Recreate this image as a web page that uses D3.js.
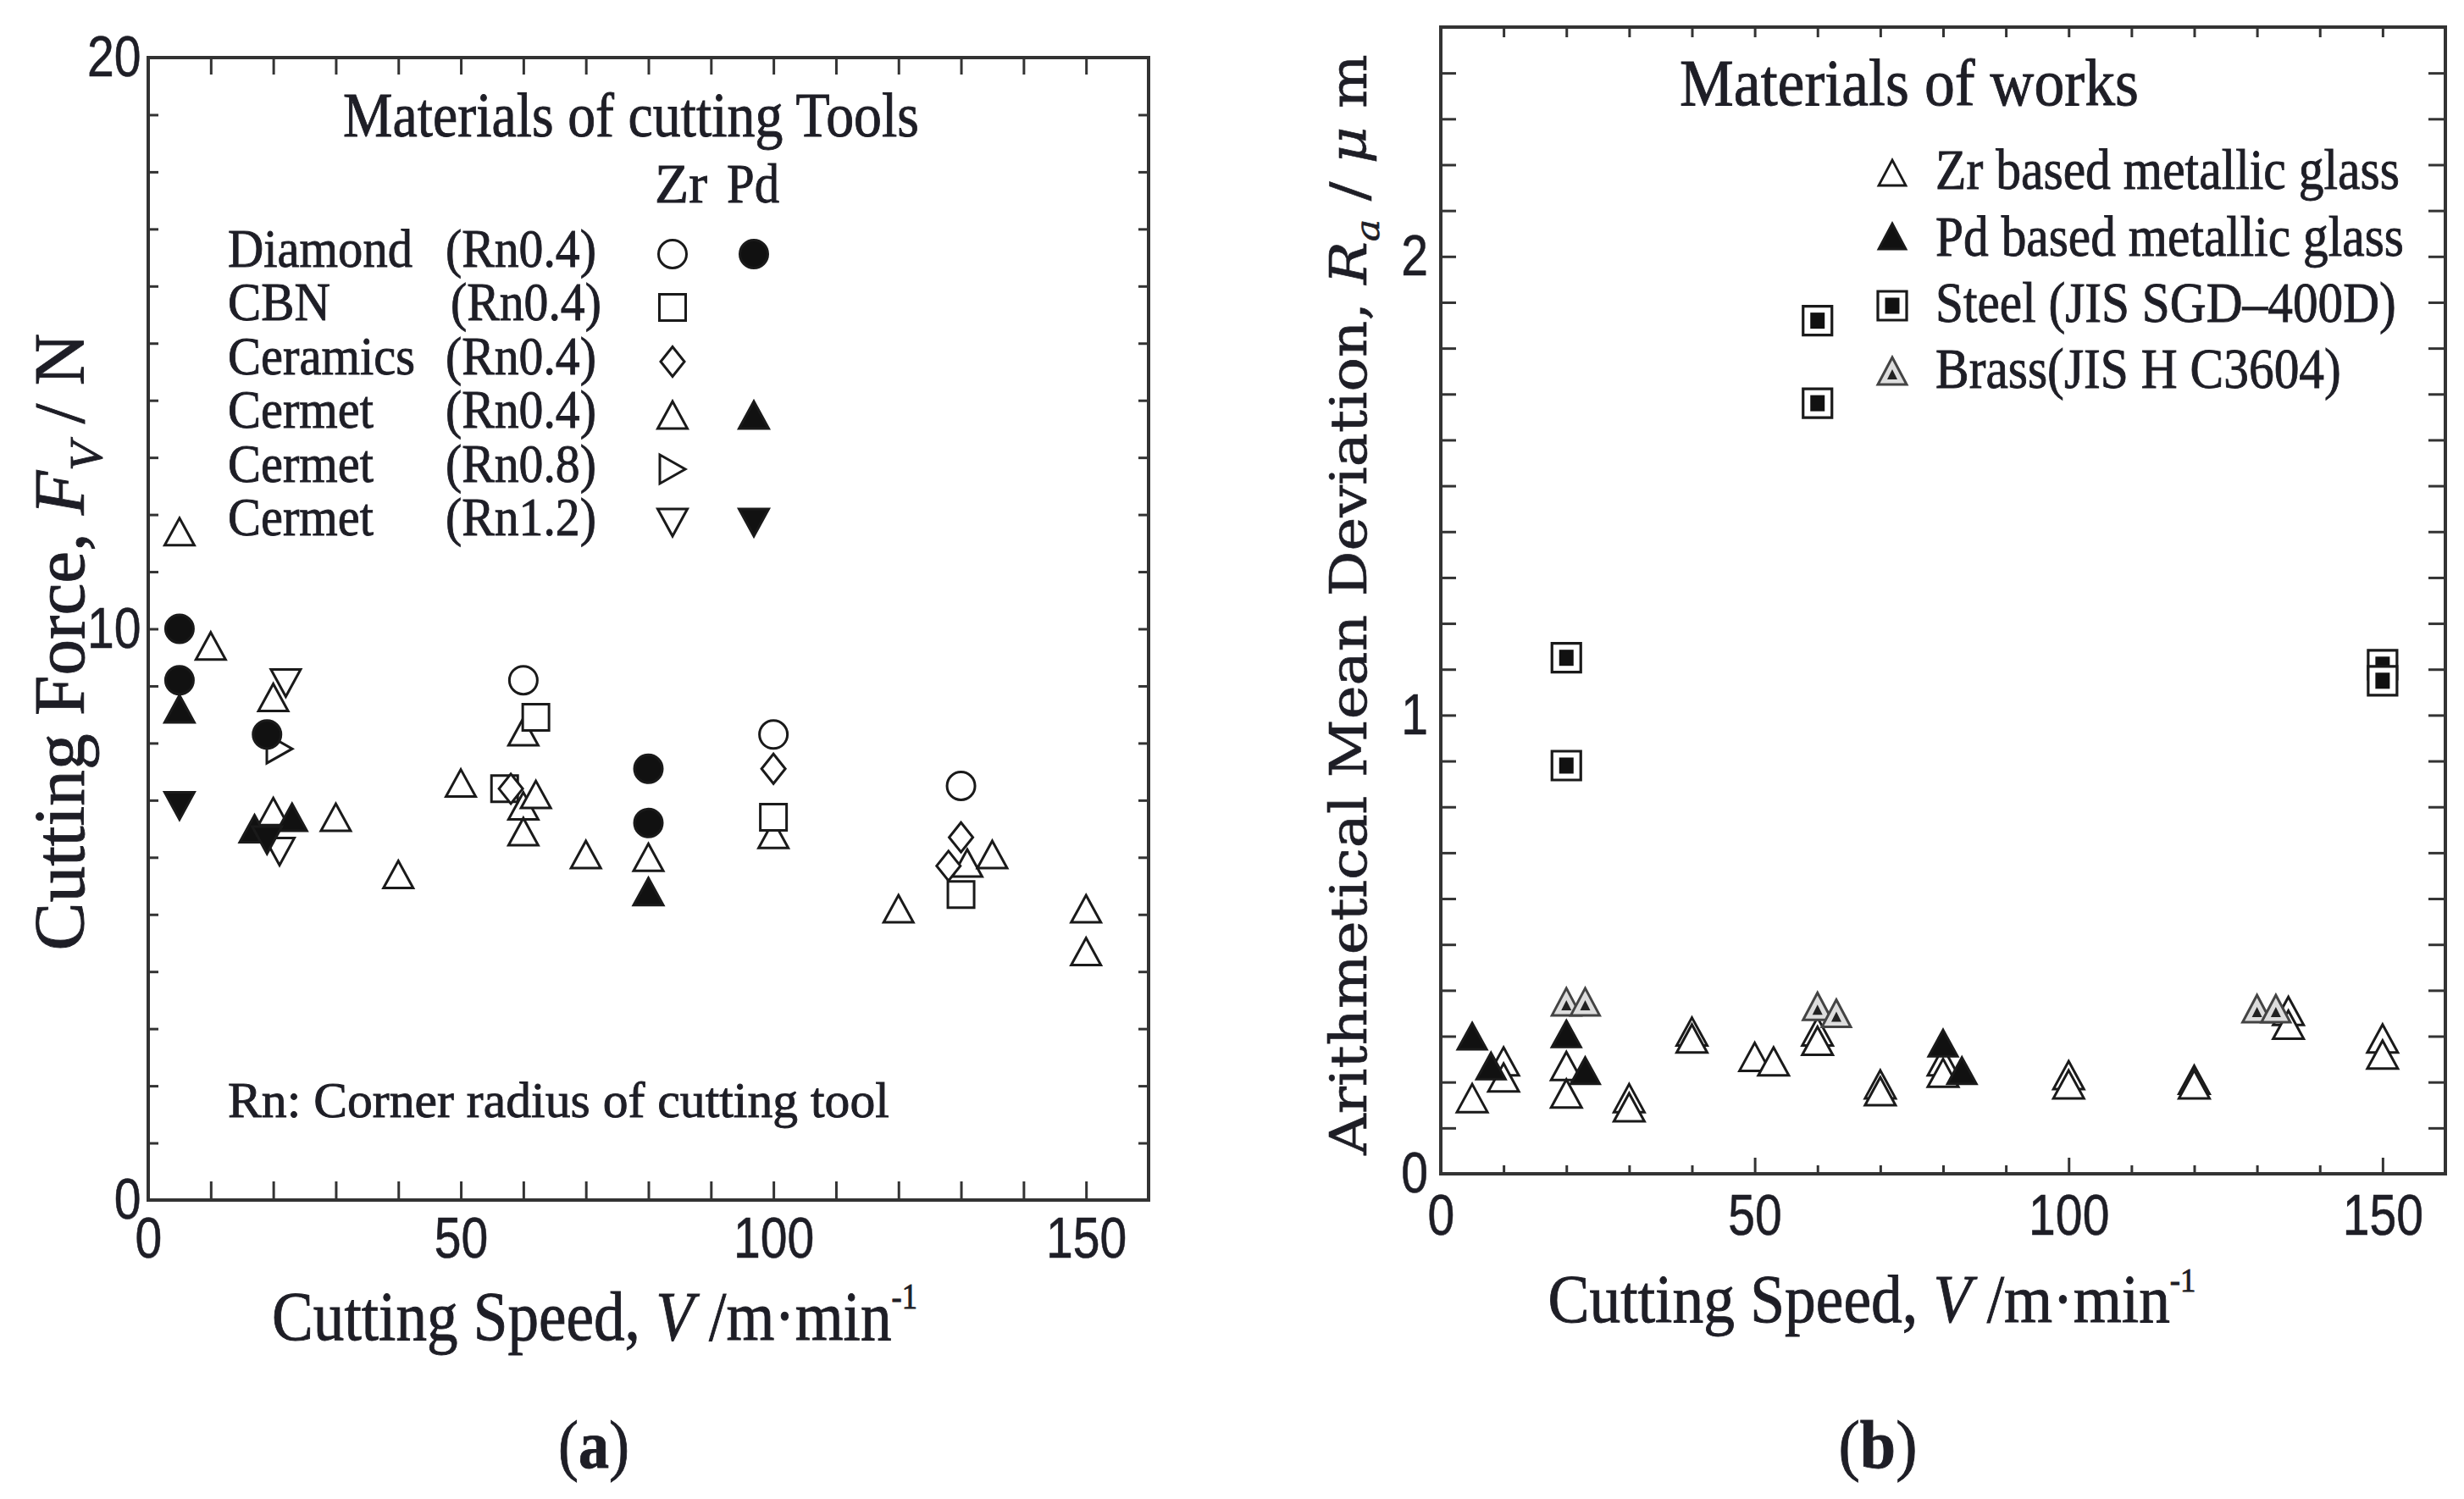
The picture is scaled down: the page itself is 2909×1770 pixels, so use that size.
<!DOCTYPE html>
<html><head><meta charset="utf-8">
<script src="https://cdn.jsdelivr.net/npm/d3@7"></script>
<style>body{margin:0;background:#fff} svg{display:block} text{white-space:pre}</style>
</head><body>
<script>
// ---------------- DATA ----------------
const speedTicks = d3.range(0, 161, 10);
const speedTickLabels = [0, 50, 100, 150];
const forceTicks = d3.range(0, 21, 1);
const forceTickLabels = [0, 10, 20];
const raTicks = d3.range(0, 26).map(i => i / 10);
const raTickLabels = [0, 1, 2];

// Panel (a): [cutting speed V, cutting force Fv]
const diamondZr  = [[60, 9.1], [100, 8.15], [130, 7.25]];
const diamondPd  = [[5, 10.0], [5, 9.1], [19, 8.15], [80, 7.55], [80, 6.6]];
const cbnZr      = [[57, 7.2], [62, 8.45], [100, 6.7], [130, 5.35]];
const ceramicsZr = [[58, 7.2], [100, 7.55], [130, 6.35], [128, 5.85]];
const cermet04Zr = [[5, 11.7], [10, 9.7], [20, 8.8], [20, 6.8], [30, 6.7], [40, 5.7], [50, 7.3],
                    [60, 8.2], [60, 6.9], [60, 6.45], [62, 7.1], [70, 6.05], [80, 6.0], [100, 6.4],
                    [120, 5.1], [131, 5.9], [135, 6.05], [150, 5.1], [150, 4.35]];
const cermet04Pd = [[5, 8.6], [17, 6.5], [23, 6.7], [80, 5.4]];
const cermet08Zr = [[21, 7.9]];
const cermet12Zr = [[22, 9.05], [21, 6.1]];
const cermet12Pd = [[5, 6.9], [19, 6.3]];

// Panel (b): [cutting speed V, Ra]
const zrGlass = [[5, 0.165], [10, 0.245], [10, 0.21], [20, 0.235], [20, 0.175], [30, 0.165], [30, 0.145],
                 [40, 0.31], [40, 0.295], [50, 0.255], [53, 0.245], [60, 0.31], [60, 0.29], [70, 0.195],
                 [70, 0.18], [80, 0.245], [80, 0.22], [100, 0.215], [100, 0.195], [120, 0.205],
                 [120, 0.195], [135, 0.355], [135, 0.325], [150, 0.295], [150, 0.26]];
const pdGlass = [[5, 0.30], [8, 0.235], [20, 0.305], [23, 0.225], [80, 0.285], [83, 0.225]];
const steel   = [[20, 1.125], [20, 0.89], [60, 1.86], [60, 1.68], [150, 1.11], [150, 1.075]];
const brass   = [[20, 0.375], [23, 0.375], [60, 0.365], [63, 0.35], [130, 0.36], [133, 0.36]];

// Legend texts
const toolNames  = ["Diamond", "CBN", "Ceramics", "Cermet", "Cermet", "Cermet"];
const toolRadius = ["(Rn0.4)", "(Rn0.4)", "(Rn0.4)", "(Rn0.4)", "(Rn0.8)", "(Rn1.2)"];
const toolZrShape = ["circle", "square", "diamond", "up", "right", "down"];
const toolPdShape = ["circle", null, null, "up", null, "down"];
const workNames = ["Zr based metallic glass", "Pd based metallic glass", "Steel (JIS SGD\u2013400D)", "Brass(JIS H C3604)"];

// ---------------- SETUP ----------------
const W = 2909, H = 1770;
const INK = "#1e1e26", AX = "#333";
const SERIF = "'Liberation Serif','Times New Roman',serif";
const SANS = "'Liberation Sans',Arial,Helvetica,sans-serif";
const svg = d3.select("body").append("svg").attr("width", W).attr("height", H)
  .attr("viewBox", `0 0 ${W} ${H}`);
svg.append("rect").attr("width", W).attr("height", H).attr("fill", "#fff");

function shape(type, w, h) {
  const p = d3.path();
  if (type === "circle") { p.arc(0, 0, w / 2, 0, 2 * Math.PI); }
  else if (type === "square") { p.rect(-w / 2, -h / 2, w, h); }
  else if (type === "diamond") { p.moveTo(0, -h / 2); p.lineTo(w / 2, 0); p.lineTo(0, h / 2); p.lineTo(-w / 2, 0); p.closePath(); }
  else if (type === "up") { p.moveTo(0, -h / 2); p.lineTo(w / 2, h / 2); p.lineTo(-w / 2, h / 2); p.closePath(); }
  else if (type === "down") { p.moveTo(-w / 2, -h / 2); p.lineTo(w / 2, -h / 2); p.lineTo(0, h / 2); p.closePath(); }
  else if (type === "right") { p.moveTo(-w / 2, -h / 2); p.lineTo(w / 2, 0); p.lineTo(-w / 2, h / 2); p.closePath(); }
  return p.toString();
}
const SIZES = { circle: [33, 33], square: [31, 31], diamond: [28, 35], up: [35, 32], down: [35, 32], right: [30, 34] };

function richText(parent, o) {
  const size = o.size, anchor = o.anchor || "start";
  const g = parent.append("g").attr("transform", `translate(${o.x},${o.y}) rotate(${o.rotate || 0})`);
  const t = g.append("text").attr("font-family", o.family || SERIF).attr("font-size", size)
    .attr("text-anchor", anchor).attr("fill", o.fill || INK)
    .attr("stroke", o.fill || INK).attr("stroke-width", o.sw == null ? 0.9 : o.sw);
  if (o.weight) t.attr("font-weight", o.weight);
  let shift = 0;
  o.parts.forEach(pp => {
    const p = typeof pp === "string" ? { t: pp } : pp;
    const ts = t.append("tspan").text(p.t);
    const target = p.sub ? size * 0.25 : p.sup ? -size * 0.45 : 0;
    if (target !== shift) { ts.attr("dy", target - shift); shift = target; }
    if (p.sub) ts.attr("font-size", size * 0.66);
    if (p.sup) ts.attr("font-size", size * 0.5);
    if (p.i) ts.attr("font-style", "italic");
    if (p.b) ts.attr("font-weight", "bold");
    if (p.family) ts.attr("font-family", p.family);
  });
  if (o.width) {
    const w = t.node().getComputedTextLength();
    t.attr("transform", `scale(${o.width / w},1)`);
  }
  return t;
}

function styleTicks(g) {
  g.select(".domain").remove();
  g.selectAll(".tick line").attr("stroke", AX).attr("stroke-width", 3);
}
function styleLabels(g, sx) {
  g.attr("font-family", SANS).attr("font-size", 68);
  g.selectAll(".tick text").attr("fill", INK).attr("stroke", INK).attr("stroke-width", 0.6)
    .attr("transform", `scale(${sx},1)`);
}

function drawMarks(g, data, xs, ys, type, filled, sz) {
  const [w, h] = sz || SIZES[type];
  g.append("g").selectAll("path").data(data).join("path")
    .attr("transform", d => `translate(${xs(d[0])},${ys(d[1])})`)
    .attr("d", shape(type, w, h))
    .attr("fill", filled ? "#111" : "#fff")
    .attr("stroke", "#1a1a1a").attr("stroke-width", 3);
}

// ================= PANEL (a) =================
const xA = d3.scaleLinear().domain([0, 160]).range([175, 1356]);
const yA = d3.scaleLinear().domain([0, 20]).range([1417, 68]);
const gA = svg.append("g");

gA.append("g").attr("transform", `translate(0,${yA(0)})`)
  .call(d3.axisBottom(xA).tickValues(speedTicks).tickSize(-22).tickSizeOuter(0).tickPadding(20)
    .tickFormat(d => speedTickLabels.includes(d) ? d : ""))
  .call(styleTicks).call(g => styleLabels(g, 0.84));
gA.append("g").attr("transform", `translate(0,${yA(20)})`)
  .call(d3.axisTop(xA).tickValues(speedTicks).tickSize(-20).tickSizeOuter(0).tickFormat(""))
  .call(styleTicks);
gA.append("g").attr("transform", `translate(${xA(0)},0)`)
  .call(d3.axisLeft(yA).tickValues(forceTicks).tickSize(-12).tickSizeOuter(0).tickPadding(10)
    .tickFormat(d => forceTickLabels.includes(d) ? d : ""))
  .call(styleTicks).call(g => styleLabels(g, 0.84));
gA.append("g").attr("transform", `translate(${xA(160)},0)`)
  .call(d3.axisRight(yA).tickValues(forceTicks).tickSize(-12).tickSizeOuter(0).tickFormat(""))
  .call(styleTicks);
gA.append("rect").attr("x", xA(0)).attr("y", yA(20)).attr("width", xA(160) - xA(0)).attr("height", yA(0) - yA(20))
  .attr("fill", "none").attr("stroke", AX).attr("stroke-width", 4);

drawMarks(gA, cermet04Zr, xA, yA, "up", false);
drawMarks(gA, cermet12Zr, xA, yA, "down", false);
drawMarks(gA, cermet08Zr, xA, yA, "right", false);
drawMarks(gA, diamondZr, xA, yA, "circle", false);
drawMarks(gA, cbnZr, xA, yA, "square", false);
drawMarks(gA, ceramicsZr, xA, yA, "diamond", false);
drawMarks(gA, diamondPd, xA, yA, "circle", true);
drawMarks(gA, cermet04Pd, xA, yA, "up", true);
drawMarks(gA, cermet12Pd, xA, yA, "down", true);

// legend (a)
richText(gA, { x: 745, y: 161, parts: ["Materials of cutting Tools"], size: 74, anchor: "middle", width: 680 });
richText(gA, { x: 804, y: 239, parts: ["Zr"], size: 66, anchor: "middle", width: 62 });
richText(gA, { x: 889, y: 239, parts: ["Pd"], size: 66, anchor: "middle", width: 62 });
const rowBase = [315, 378, 442, 505, 569, 632];
const nameW = { "Diamond": 218, "CBN": 121, "Ceramics": 221, "Cermet": 172 };
toolNames.forEach((n, i) => {
  richText(gA, { x: 269, y: rowBase[i], parts: [n], size: 63, width: nameW[n] });
  richText(gA, { x: i === 1 ? 532 : 526, y: rowBase[i], parts: [toolRadius[i]], size: 63, width: 178 });
  const cy = rowBase[i] - 15;
  const zs = toolZrShape[i], [zw, zh] = SIZES[zs];
  gA.append("path").attr("transform", `translate(794,${cy})`).attr("d", shape(zs, zw, zh))
    .attr("fill", "#fff").attr("stroke", "#1a1a1a").attr("stroke-width", 3);
  const ps = toolPdShape[i];
  if (ps) {
    const [pw, ph] = SIZES[ps];
    gA.append("path").attr("transform", `translate(890,${cy})`).attr("d", shape(ps, pw, ph))
      .attr("fill", "#111").attr("stroke", "#1a1a1a").attr("stroke-width", 3);
  }
});
richText(gA, { x: 269, y: 1319, parts: ["Rn: Corner radius of cutting tool"], size: 60, width: 781 });

richText(gA, { x: 702, y: 1582, parts: ["Cutting Speed, ", { t: "V", i: true }, " /m\u00b7min", { t: "-1", sup: true }], size: 83, anchor: "middle", width: 762 });
richText(gA, { x: 99, y: 758, rotate: -90, parts: ["Cutting Force, ", { t: "F", i: true }, { t: "V", i: true, sub: true }, " / N"], size: 84, anchor: "middle", width: 729 });
richText(gA, { x: 701, y: 1733, parts: ["(", { t: "a", b: true }, ")"], size: 80, anchor: "middle", width: 84 });

// ================= PANEL (b) =================
const xB = d3.scaleLinear().domain([0, 160]).range([1701, 2887]);
const yB = d3.scaleLinear().domain([0, 2.5]).range([1386, 32]);
const gB = svg.append("g");

gB.append("g").attr("transform", `translate(0,${yB(0)})`)
  .call(d3.axisBottom(xB).tickValues(speedTicks.filter(d => !speedTickLabels.includes(d))).tickSize(-10).tickSizeOuter(0).tickFormat(""))
  .call(styleTicks);
gB.append("g").attr("transform", `translate(0,${yB(0)})`)
  .call(d3.axisBottom(xB).tickValues(speedTickLabels).tickSize(-19).tickSizeOuter(0).tickPadding(24))
  .call(styleTicks).call(g => styleLabels(g, 0.84));
gB.append("g").attr("transform", `translate(0,${yB(2.5)})`)
  .call(d3.axisTop(xB).tickValues(speedTicks).tickSize(-12).tickSizeOuter(0).tickFormat(""))
  .call(styleTicks);
gB.append("g").attr("transform", `translate(${xB(0)},0)`)
  .call(d3.axisLeft(yB).tickValues(raTicks).tickSize(-18).tickSizeOuter(0).tickPadding(18)
    .tickFormat(d => raTickLabels.some(v => Math.abs(v - d) < 1e-9) ? d3.format("d")(d) : ""))
  .call(styleTicks).call(g => styleLabels(g, 0.84));
gB.append("g").attr("transform", `translate(${xB(160)},0)`)
  .call(d3.axisRight(yB).tickValues(raTicks).tickSize(-20).tickSizeOuter(0).tickFormat(""))
  .call(styleTicks);
gB.append("rect").attr("x", xB(0)).attr("y", yB(2.5)).attr("width", xB(160) - xB(0)).attr("height", yB(0) - yB(2.5))
  .attr("fill", "none").attr("stroke", AX).attr("stroke-width", 4);

function drawSteel(g, data, xs, ys) {
  const m = g.append("g").selectAll("g").data(data).join("g")
    .attr("transform", d => `translate(${xs(d[0])},${ys(d[1])})`);
  m.append("path").attr("d", shape("square", 34, 34)).attr("fill", "#fff").attr("stroke", "#1a1a1a").attr("stroke-width", 3.2);
  m.append("path").attr("d", shape("square", 17, 19)).attr("fill", "#111");
}
function drawBrass(g, data, xs, ys) {
  const m = g.append("g").selectAll("g").data(data).join("g")
    .attr("transform", d => `translate(${xs(d[0])},${ys(d[1])})`);
  m.append("path").attr("d", shape("up", 34, 32)).attr("fill", "#ddd").attr("stroke", "#444").attr("stroke-width", 3);
  m.append("path").attr("d", shape("up", 12, 12)).attr("transform", "translate(0,4)").attr("fill", "#222");
}

drawMarks(gB, zrGlass, xB, yB, "up", false, [36, 33]);
drawMarks(gB, pdGlass, xB, yB, "up", true, [34, 31]);
drawBrass(gB, brass, xB, yB);
drawSteel(gB, steel, xB, yB);

// legend (b)
richText(gB, { x: 2254, y: 124, parts: ["Materials of works"], size: 78, anchor: "middle", width: 542 });
const workBase = [223, 302, 380, 458];
const workW = [548, 553, 544, 479];
workNames.forEach((n, i) => richText(gB, { x: 2285, y: workBase[i], parts: [n], size: 68, width: workW[i] }));
gB.append("path").attr("transform", `translate(2234,204)`).attr("d", shape("up", 32, 30))
  .attr("fill", "#fff").attr("stroke", "#1a1a1a").attr("stroke-width", 2.8);
gB.append("path").attr("transform", `translate(2234,279)`).attr("d", shape("up", 32, 30))
  .attr("fill", "#111").attr("stroke", "#1a1a1a").attr("stroke-width", 2.8);
drawSteel(gB, [[0, 0]], () => 2234, () => 361);
drawBrass(gB, [[0, 0]], () => 2234, () => 438);

richText(gB, { x: 2210, y: 1561, parts: ["Cutting Speed, ", { t: "V", i: true }, " /m\u00b7min", { t: "-1", sup: true }], size: 80, anchor: "middle", width: 765 });
richText(gB, { x: 1613, y: 714, rotate: -90, family: "'DejaVu Serif',serif",
  parts: ["Arithmetical Mean Deviation, ", { t: "R", i: true }, { t: "a", i: true, sub: true }, " / ", { t: "\u03bc", i: true }, " m"],
  size: 60, anchor: "middle", width: 1300, sw: 0.6 });
richText(gB, { x: 2217, y: 1733, parts: ["(", { t: "b", b: true }, ")"], size: 80, anchor: "middle", width: 93 });
</script>
</body></html>
